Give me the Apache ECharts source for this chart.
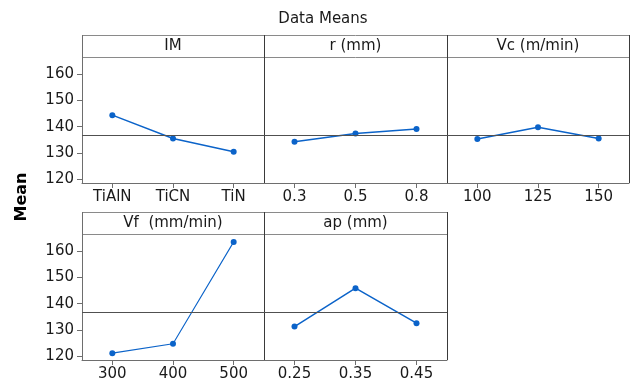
<!DOCTYPE html>
<html><head><meta charset="utf-8">
<script src="https://cdn.jsdelivr.net/npm/echarts@6/dist/echarts.min.js"></script>
<style>html,body{margin:0;padding:0;background:#fff}#c{width:633px;height:385px}</style>
</head><body><div id="c"></div>
<script>
const factorNames = ['IM', 'r (mm)', 'Vc (m/min)', 'Vf  (mm/min)', 'ap (mm)'];
const imLevels = ['TiAlN', 'TiCN', 'TiN'];
const imMeans = [144.4, 135.5, 130.5];
const rLevels = ['0.3', '0.5', '0.8'];
const rMeans = [134.3, 137.4, 139.1];
const vcLevels = ['100', '125', '150'];
const vcMeans = [135.3, 139.8, 135.5];
const vfLevels = ['300', '400', '500'];
const vfMeans = [121.2, 124.8, 163.5];
const apLevels = ['0.25', '0.35', '0.45'];
const apMeans = [131.3, 145.9, 132.6];
const grandMean = 136.7;
const yTicks = [120, 130, 140, 150, 160];
const yMin = 118.6, yMax = 166.5;

const levels = [imLevels, rLevels, vcLevels, vfLevels, apLevels];
const means = [imMeans, rMeans, vcMeans, vfMeans, apMeans];

// layout
const colX = [82, 264, 447, 629];
const rows = [{boxTop: 35, headBot: 57, plotBot: 183}, {boxTop: 212, headBot: 234, plotBot: 360}];
const pos = [[0,0],[0,1],[0,2],[1,0],[1,1]];
const FONT = 'DejaVu Sans';
const TXT = '#1a1a1a';
const BLUE = '#0b63c9';

const grids = [], xAxes = [], yAxes = [], series = [], graphics = [];
pos.forEach(([r, c], i) => {
  const row = rows[r];
  const left = colX[c], w = colX[c + 1] - colX[c];
  grids.push({left: left, top: row.headBot, width: w, height: row.plotBot - row.headBot, containLabel: false});
  xAxes.push({
    type: 'category', gridIndex: i, data: levels[i], boundaryGap: true,
    axisLine: {show: true, lineStyle: {color: '#6e6e6e', width: 1}},
    axisTick: {show: true, alignWithLabel: true, length: 5, lineStyle: {color: '#6e6e6e'}},
    axisLabel: {color: TXT, fontFamily: FONT, fontSize: 15, margin: 7},
    splitLine: {show: false}
  });
  yAxes.push({
    type: 'value', gridIndex: i, min: yMin, max: yMax,
    axisLine: {show: c === 0, lineStyle: {color: '#6e6e6e'}},
    axisTick: {show: c === 0, length: 5, customValues: yTicks, lineStyle: {color: '#6e6e6e'}},
    axisLabel: {show: c === 0, customValues: yTicks, color: TXT, fontFamily: FONT, fontSize: 15, margin: 8},
    splitLine: {show: false}
  });
  series.push({
    type: 'line', xAxisIndex: i, yAxisIndex: i, data: means[i],
    symbol: 'circle', symbolSize: 6,
    lineStyle: {color: BLUE, width: i === 3 ? 1.1 : 1.5},
    itemStyle: {color: BLUE},
    animation: false,
    markLine: {
      silent: true, symbol: 'none', label: {show: false},
      lineStyle: {color: '#505050', width: 1, type: 'solid'},
      data: [{yAxis: grandMean}], animation: false
    }
  });
  // header text
  graphics.push({type: 'text', x: left + w / 2, y: (row.boxTop + row.headBot) / 2,
    style: {text: factorNames[i], font: '15px "' + FONT + '"', fill: TXT, textAlign: 'center', textVerticalAlign: 'middle'}});
});

// row boxes
rows.forEach((row, r) => {
  const right = r === 0 ? colX[3] : colX[2];
  graphics.push({type: 'line', shape: {x1: colX[0], y1: row.boxTop + 0.5, x2: right, y2: row.boxTop + 0.5}, style: {stroke: '#8a8a8a', lineWidth: 1}});
  graphics.push({type: 'line', shape: {x1: colX[0], y1: row.headBot + 0.5, x2: right, y2: row.headBot + 0.5}, style: {stroke: '#8a8a8a', lineWidth: 1}});
  graphics.push({type: 'line', shape: {x1: colX[0] + 0.5, y1: row.boxTop, x2: colX[0] + 0.5, y2: row.headBot}, style: {stroke: '#6e6e6e', lineWidth: 1}});
  const seps = r === 0 ? [colX[1], colX[2], colX[3]] : [colX[1], colX[2]];
  seps.forEach(x => {
    graphics.push({type: 'line', shape: {x1: x + 0.5, y1: row.boxTop, x2: x + 0.5, y2: row.plotBot}, style: {stroke: '#3a3a3a', lineWidth: 1}});
  });
});

graphics.push({type: 'text', x: 323, y: 19,
  style: {text: 'Data Means', font: '15px "' + FONT + '"', fill: TXT, textAlign: 'center', textVerticalAlign: 'middle'}});
graphics.push({type: 'text', x: 22, y: 197, rotation: Math.PI / 2,
  style: {text: 'Mean', font: 'bold 16px "' + FONT + '"', fill: '#000', textAlign: 'center', textVerticalAlign: 'middle'}});

const chart = echarts.init(document.getElementById('c'), null, {renderer: 'canvas'});
chart.setOption({
  animation: false,
  backgroundColor: '#fff',
  grid: grids, xAxis: xAxes, yAxis: yAxes, series: series,
  graphic: graphics
});
</script></body></html>
